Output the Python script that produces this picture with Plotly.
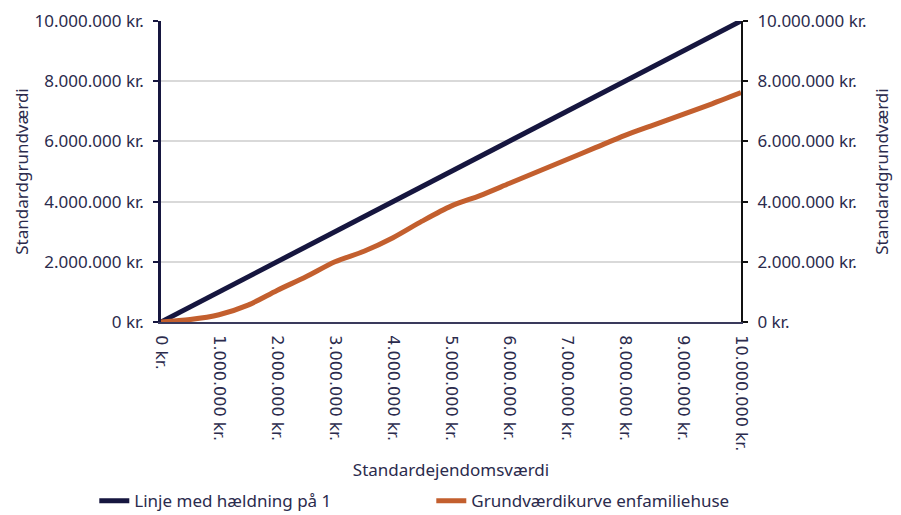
import plotly.graph_objects as go

x_vals = [0, 500000, 1000000, 1500000, 2000000, 2500000, 3000000, 3500000, 4000000,
          4500000, 5000000, 5500000, 6000000, 6500000, 7000000, 7500000, 8000000,
          8500000, 9000000, 9500000, 10000000]
linje = [0, 500000, 1000000, 1500000, 2000000, 2500000, 3000000, 3500000, 4000000,
         4500000, 5000000, 5500000, 6000000, 6500000, 7000000, 7500000, 8000000,
         8500000, 9000000, 9500000, 10000000]
grundvaerdi = [0, 80000, 240000, 560000, 1050000, 1500000, 2000000, 2350000, 2800000,
               3350000, 3850000, 4200000, 4600000, 5000000, 5400000, 5800000, 6200000,
               6550000, 6900000, 7250000, 7620000]

tick_vals = [0, 1000000, 2000000, 3000000, 4000000, 5000000, 6000000, 7000000, 8000000, 9000000, 10000000]
x_tick_text = ["0 kr.", "1.000.000 kr.", "2.000.000 kr.", "3.000.000 kr.", "4.000.000 kr.",
               "5.000.000 kr.", "6.000.000 kr.", "7.000.000 kr.", "8.000.000 kr.",
               "9.000.000 kr.", "10.000.000 kr."]
y_tick_vals = [0, 2000000, 4000000, 6000000, 8000000, 10000000]
y_tick_text = ["0 kr.", "2.000.000 kr.", "4.000.000 kr.", "6.000.000 kr.", "8.000.000 kr.", "10.000.000 kr."]

NAVY = "#16163f"
ORANGE = "#c35f2e"
TXT = "#2b2b4d"
FONT = "Noto Sans"

fig = go.Figure()
fig.add_trace(go.Scatter(x=x_vals, y=linje, mode="lines", name="Linje med hældning på 1",
                         line=dict(color=NAVY, width=5), cliponaxis=False))
fig.add_trace(go.Scatter(x=x_vals, y=grundvaerdi, mode="lines", name="Grundværdikurve enfamiliehuse",
                         line=dict(color=ORANGE, width=5, shape="spline", smoothing=0.8),
                         yaxis="y2", cliponaxis=False))

fig.update_layout(
    width=901, height=515,
    margin=dict(l=161, r=160, t=21, b=193, autoexpand=False),
    plot_bgcolor="white", paper_bgcolor="white",
    font=dict(family=FONT, color=TXT, size=17),
    xaxis=dict(range=[0, 10000000], tickvals=tick_vals, ticktext=x_tick_text,
               tickangle=90, showgrid=False, zeroline=False,
               showline=True, linecolor="#3a3a5c", linewidth=2,
               ticks="", ticklabelstandoff=8,
               tickfont=dict(family="DejaVu Sans", size=16, color=TXT),
               title=dict(text="Standardejendomsværdi", font=dict(size=17, color=TXT), standoff=14)),
    yaxis=dict(range=[0, 10000000], tickvals=y_tick_vals, ticktext=y_tick_text,
               showgrid=True, gridcolor="#d9d9d9", gridwidth=1.5, zeroline=False,
               showline=True, linecolor=NAVY, linewidth=2.5,
               ticks="outside", ticklen=5, tickcolor=NAVY, tickwidth=1.5,
               ticklabelstandoff=6,
               tickfont=dict(size=17, color=TXT),
               title=dict(text="Standardgrundværdi", font=dict(size=17, color=TXT), standoff=2)),
    yaxis2=dict(range=[0, 10000000], tickvals=y_tick_vals, ticktext=y_tick_text,
                overlaying="y", side="right", showgrid=False, zeroline=False,
                showline=True, linecolor="#111111", linewidth=2,
                ticks="outside", ticklen=5, tickcolor="#111111", tickwidth=1.5,
                ticklabelstandoff=6,
                tickfont=dict(size=17, color=TXT),
                title=dict(text="Standardgrundværdi", font=dict(size=17, color=TXT), standoff=10)),
    legend=dict(orientation="h", x=-0.115, xanchor="left", y=-0.595, yanchor="middle",
                font=dict(size=17, color=TXT), entrywidth=292, entrywidthmode="pixels",
                bgcolor="rgba(0,0,0,0)"),
    showlegend=True,
)

fig.write_html("out.html")
